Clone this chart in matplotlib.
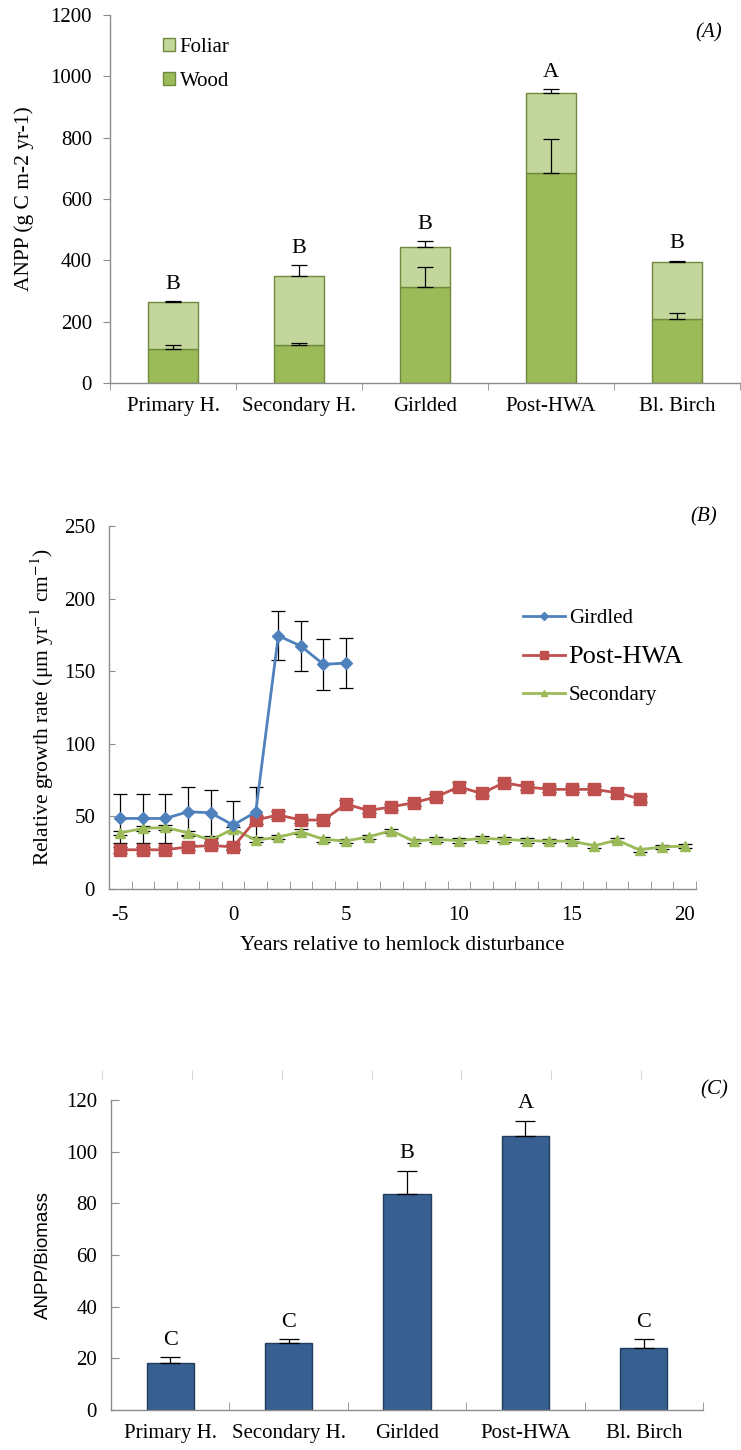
import numpy as np
import matplotlib
matplotlib.use("Agg")
import matplotlib.pyplot as plt
from matplotlib.patches import Patch
from matplotlib.lines import Line2D

plt.rcParams['font.family'] = ['Liberation Serif', 'DejaVu Serif']
plt.rcParams['font.size'] = 15
plt.rcParams['axes.unicode_minus'] = False
plt.rcParams['mathtext.fontset'] = 'stix'

# (A) ANPP by stand type
sites = ["Primary H.", "Secondary H.", "Girlded", "Post-HWA", "Bl. Birch"]
wood = [112, 125, 314, 686, 208]
wood_err = [11, 7, 63, 109, 20]
foliar = [152, 225, 128, 259, 187]
total_err = [4, 35, 21, 13, 4]
anpp_letters = ["B", "B", "B", "A", "B"]

# (B) relative growth rate around the disturbance year
years_girdled = list(range(-5, 6))
girdled = [48.6, 48.6, 48.6, 53.2, 52.5, 44.0, 53.0, 174.4, 167.3, 154.7, 155.6]
girdled_err = [17, 17, 17, 17, 16, 16.5, 17, 17, 17.5, 17.4, 17.3]
years_hwa = list(range(-5, 19))
post_hwa = [27, 27, 27, 29, 30, 29, 47.5, 51, 47.5, 47.5, 58.5, 54,
            56.6, 59.4, 63.5, 70.4, 65.8, 73.2, 70.4, 68.6, 68.6, 68.6, 66.3, 62.1]
post_hwa_err = [2, 2, 2, 2, 2, 2, 3, 3, 2, 2, 3, 2,
                2, 2, 2, 3, 2, 2, 2, 2, 2, 2, 3, 2]
years_sec = list(range(-5, 21))
secondary = [38.7, 41.7, 42.4, 38.7, 33.7, 41.3, 33.7, 35.6, 39.5, 34.2, 33.0, 36.0,
             40.1, 33.0, 34.2, 33.3, 34.9, 34.2, 33.3, 33.0, 33.0, 29.8, 33.7, 26.9, 29.1, 29.4]
secondary_err = [1.5] * len(secondary)

# (C) ANPP / biomass
ratio = [18.1, 26.1, 83.6, 106.2, 24.1]
ratio_err = [2.5, 1.5, 9.1, 5.8, 3.3]
ratio_letters = ["C", "C", "B", "A", "C"]

W, H = 741, 1450
fig = plt.figure(figsize=(W / 100, H / 100), dpi=100)


def box(left, top, right, bottom):
    return [left / W, 1 - bottom / H, (right - left) / W, (bottom - top) / H]


axis_grey = '#8c8c8c'


def style_axes(ax):
    for s in ['top', 'right']:
        ax.spines[s].set_visible(False)
    for s in ['left', 'bottom']:
        ax.spines[s].set_color(axis_grey)
        ax.spines[s].set_linewidth(1.0)


# ---------- panel A ----------
axA = fig.add_axes(box(110, 15, 740, 383))
style_axes(axA)
x = np.arange(len(sites))
axA.bar(x, wood, width=0.4, color='#9BBB59', edgecolor='#71893F', linewidth=1, label='Wood', zorder=2)
axA.bar(x, foliar, width=0.4, bottom=wood, color='#C3D69B', edgecolor='#71893F', linewidth=1,
        label='Foliar', zorder=2)
totals = np.array(wood) + np.array(foliar)
axA.errorbar(x, wood, yerr=[np.zeros(5), wood_err], fmt='none', ecolor='black',
             elinewidth=0.9, capsize=6, capthick=0.9, zorder=3)
axA.errorbar(x, totals, yerr=[np.zeros(5), total_err], fmt='none', ecolor='black',
             elinewidth=0.9, capsize=6, capthick=0.9, zorder=3)
for xi, top, lab in zip(x, totals + np.array(total_err), anpp_letters):
    axA.annotate(lab, (xi, top), xytext=(0, 12), textcoords='offset points',
                 ha='center', va='center', fontsize=16)
axA.set_xlim(-0.5, 4.5)
axA.set_ylim(0, 1200)
axA.set_yticks(range(0, 1201, 200))
axA.set_xticks(x)
axA.set_xticklabels(sites)
axA.set_xticks(np.arange(-0.5, 5, 1), minor=True)
axA.tick_params(axis='x', which='major', length=0, pad=10)
axA.tick_params(axis='x', which='minor', direction='out', length=5, color=axis_grey)
axA.tick_params(axis='y', direction='out', length=5, color=axis_grey, pad=8)
axA.set_ylabel('ANPP (g C m-2 yr-1)', fontsize=15.5, labelpad=12)
axA.legend(handles=[Patch(facecolor='#C3D69B', edgecolor='#71893F', label='Foliar'),
                    Patch(facecolor='#9BBB59', edgecolor='#71893F', label='Wood')],
           loc='center left', bbox_to_anchor=(0.084, 0.866), frameon=False,
           handlelength=0.6, handleheight=0.6, handletextpad=0.2, labelspacing=0.7,
           borderpad=0, borderaxespad=0, fontsize=15)
fig.text(709 / W, 1 - 33 / H, '(A)', style='italic', ha='center', va='center', fontsize=15)

# ---------- panel B ----------
axB = fig.add_axes(box(109, 526, 696, 889))
style_axes(axB)
err_kw = dict(fmt='none', ecolor='black', elinewidth=0.9, capsize=5, capthick=0.9, zorder=2)
axB.errorbar(years_girdled, girdled, yerr=girdled_err, **err_kw)
axB.errorbar(years_hwa, post_hwa, yerr=post_hwa_err, **err_kw)
axB.errorbar(years_sec, secondary, yerr=secondary_err, **err_kw)
axB.plot(years_girdled, girdled, color='#4F81BD', lw=2, marker='D', ms=6, zorder=5)
axB.plot(years_hwa, post_hwa, color='#C0504D', lw=2, marker='s', ms=8, zorder=4)
axB.plot(years_sec, secondary, color='#9BBB59', lw=2, marker='^', ms=7, zorder=3)
axB.set_xlim(-5.5, 20.5)
axB.set_ylim(0, 250)
axB.set_yticks(range(0, 251, 50))
axB.set_xticks(range(-5, 21, 5))
axB.set_xticks(np.arange(-4.5, 20.6, 1), minor=True)
axB.tick_params(axis='x', which='major', length=0, pad=12)
axB.tick_params(axis='x', which='minor', direction='in', length=6, color=axis_grey)
axB.tick_params(axis='y', direction='in', length=4, color=axis_grey, pad=10)
axB.set_xlabel('Years relative to hemlock disturbance', fontsize=15.5, labelpad=8)
axB.set_ylabel('Relative growth rate (\u03bcm yr$^{-1}$ cm$^{-1}$)', fontsize=15.5, labelpad=6)
legB = axB.legend(handles=[
    Line2D([], [], color='#4F81BD', lw=2, marker='D', ms=4, label='Girdled'),
    Line2D([], [], color='#C0504D', lw=2, marker='s', ms=6, label='Post-HWA'),
    Line2D([], [], color='#9BBB59', lw=2, marker='^', ms=5, label='Secondary')],
    loc='center left', bbox_to_anchor=(0.705, 0.64), frameon=False,
    handlelength=2.0, handletextpad=0.2, labelspacing=0.85,
    borderpad=0, borderaxespad=0, fontsize=15)
legB.get_texts()[1].set_fontsize(19)
fig.text(704 / W, 1 - 517 / H, '(B)', style='italic', ha='center', va='center', fontsize=15)

# faint leftover tick row above panel C
axS = fig.add_axes(box(102, 1070, 641, 1080))
axS.set_xlim(0, 6)
axS.set_xticks(range(7))
axS.set_xticklabels([])
axS.set_yticks([])
for s in axS.spines.values():
    s.set_visible(False)
axS.tick_params(axis='x', direction='in', length=7, color='#d8d8d8')
axS.patch.set_alpha(0)

# ---------- panel C ----------
axC = fig.add_axes(box(111, 1100, 703, 1410))
style_axes(axC)
axC.bar(x, ratio, width=0.4, color='#375F91', edgecolor='#223C5E', linewidth=1, zorder=2)
axC.errorbar(x, ratio, yerr=[np.zeros(5), ratio_err], fmt='none', ecolor='black',
             elinewidth=0.9, capsize=7, capthick=0.9, zorder=3)
for xi, top, lab in zip(x, np.array(ratio) + np.array(ratio_err), ratio_letters):
    axC.annotate(lab, (xi, top), xytext=(0, 12), textcoords='offset points',
                 ha='center', va='center', fontsize=16)
axC.set_xlim(-0.5, 4.5)
axC.set_ylim(0, 120)
axC.set_yticks(range(0, 121, 20))
axC.set_xticks(x)
axC.set_xticklabels(sites)
axC.set_xticks(np.arange(-0.5, 5, 1), minor=True)
axC.tick_params(axis='x', which='major', length=0, pad=10)
axC.tick_params(axis='x', which='minor', direction='in', length=6, color=axis_grey)
axC.tick_params(axis='y', direction='in', length=6, color=axis_grey, pad=10)
axC.set_ylabel('ANPP/Biomass', family=['Liberation Sans', 'DejaVu Sans'], fontsize=13.5, labelpad=10)
fig.text(714 / W, 1 - 1090 / H, '(C)', style='italic', ha='center', va='center', fontsize=15)

fig.savefig('out.png', dpi=100)
